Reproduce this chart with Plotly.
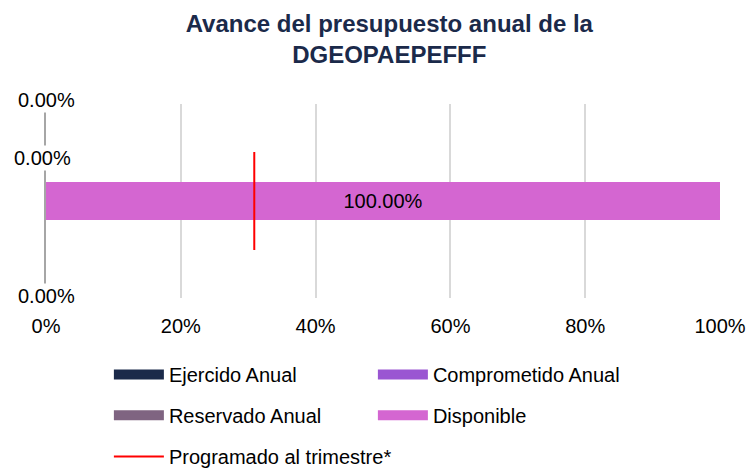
import plotly.graph_objects as go

# ---- data ----
categories = ["DGEOPAEPEFFF"]
series_names = ["Ejercido Anual", "Comprometido Anual", "Reservado Anual", "Disponible"]
series_values = [[0.0], [0.0], [0.0], [100.0]]
series_colors = ["#1B2A4A", "#9A56D2", "#7F6481", "#D466D1"]
programado_name = "Programado al trimestre*"
programado_value = 30.9
x_ticks = [0, 20, 40, 60, 80, 100]

FONT = "Liberation Sans, Arial, sans-serif"
BAR_Y = 0.0
BAR_W = 0.385
LINE_HALF = 0.505

fig = go.Figure()

for name, vals, col in zip(series_names, series_values, series_colors):
    show_text = vals[0] > 0
    fig.add_trace(go.Bar(
        x=vals, y=[BAR_Y], orientation="h", name=name,
        marker=dict(color=col, line=dict(width=0)),
        width=BAR_W, showlegend=False,
        text=[f"{v:.2f}%" for v in vals] if show_text else None,
        textposition="inside", insidetextanchor="middle",
        textfont=dict(family=FONT, size=20, color="#000000"),
        hoverinfo="x+name",
    ))

# programmed line
fig.add_trace(go.Scatter(
    x=[programado_value, programado_value], y=[BAR_Y - LINE_HALF, BAR_Y + LINE_HALF],
    mode="lines", line=dict(color="#FF0000", width=2), name=programado_name,
    showlegend=True, legend="legend3",
))

# legend entries (wide swatches)
legend_map = ["legend", "legend", "legend2", "legend2"]
for name, col, lg in zip(series_names, series_colors, legend_map):
    fig.add_trace(go.Scatter(
        x=[None], y=[None], mode="lines", name=name,
        line=dict(color=col, width=12), legend=lg, showlegend=True,
    ))

# zero labels for the empty segments (vertical placement in paper units)
label_y = [1.021, 0.722, 0.010]
label_shift = [0, -4, 0]
cum = 0.0
for i in range(3):
    v = series_values[i][0]
    fig.add_annotation(
        x=cum + v / 2, y=label_y[i], xref="x", yref="paper",
        xanchor="center", yanchor="middle",
        text=f"{v:.2f}%", showarrow=False, xshift=label_shift[i],
        font=dict(family=FONT, size=20, color="#000000"),
        bgcolor="rgba(255,255,255,1)",
    )
    cum += v

leg_common = dict(
    orientation="h", xanchor="left", yanchor="middle", traceorder="normal",
    entrywidthmode="pixels", itemwidth=50,
    font=dict(family=FONT, size=20, color="#000000"),
    bgcolor="rgba(0,0,0,0)", itemclick=False, itemdoubleclick=False,
)

LEG_X = 0.0933

fig.update_layout(
    width=753, height=472,
    margin=dict(l=46, r=33, t=104, b=174, autoexpand=False),
    paper_bgcolor="#FFFFFF", plot_bgcolor="#FFFFFF",
    barmode="stack",
    title=dict(
        text="<b>Avance del presupuesto anual de la<br>DGEOPAEPEFFF</b>",
        x=0.517, xanchor="center", y=0.933, yanchor="top",
        font=dict(family=FONT, size=24, color="#1B2A4A"),
    ),
    xaxis=dict(
        range=[0, 100], tickvals=x_ticks, ticktext=[f"{t}%" for t in x_ticks],
        showgrid=True, gridcolor="#D9D9D9", gridwidth=2, zeroline=False,
        showline=False, ticks="", ticklabelstandoff=14,
        tickfont=dict(family=FONT, size=20, color="#000000"),
    ),
    yaxis=dict(
        range=[-1, 1], showticklabels=False, showgrid=False, zeroline=False,
        showline=True, linecolor="#A6A6A6", linewidth=2, ticks="",
    ),
    showlegend=True,
    legend=dict(x=LEG_X, y=-0.394, entrywidth=199, **leg_common),
    legend2=dict(x=LEG_X, y=-0.605, entrywidth=199, **leg_common),
    legend3=dict(x=LEG_X, y=-0.817, entrywidth=0, **leg_common),
)

fig.write_html(
    "out.html",
    config={"displayModeBar": False},
    post_script="document.body.style.margin='0';document.body.style.padding='0';",
)
